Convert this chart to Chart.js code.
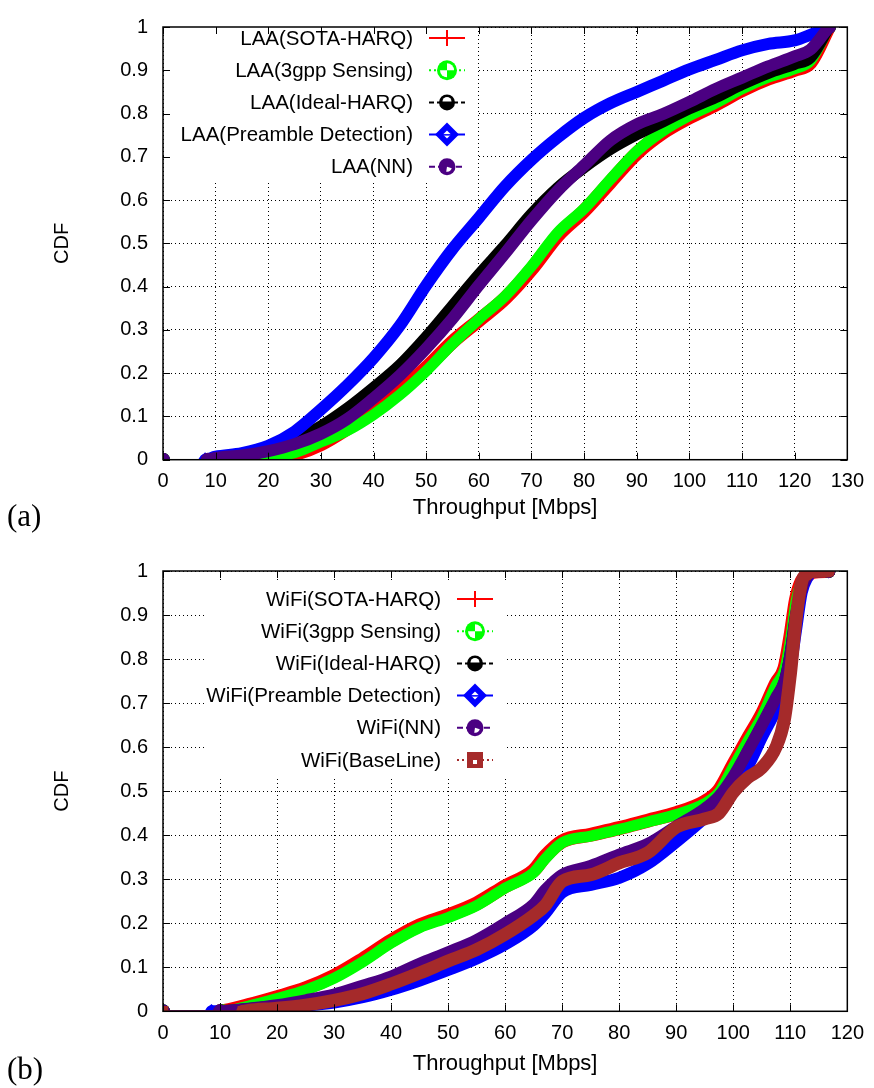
<!DOCTYPE html>
<html lang="en">
<head>
<meta charset="UTF-8">
<title>Throughput CDF - LAA / WiFi</title>
<script src="https://cdn.jsdelivr.net/npm/chart.js"></script>
<style>
  html, body { margin: 0; padding: 0; background: #fff; }
  canvas { position: absolute; left: 0; }
  #chartA { top: 0; }
  #chartB { top: 544px; }
</style>
</head>
<body>
<canvas id="chartA" width="874" height="544"></canvas>
<canvas id="chartB" width="874" height="544"></canvas>

<script>
// ---- (a) LAA throughput CDF ----
const xLaa = [10, 15, 20, 25, 30, 35, 40, 45, 50, 55, 60, 65, 70, 75, 80, 85, 90, 95, 100, 105, 110, 115, 120, 123, 126.5];
const laaSota     = [0, 0, 0.004, 0.013, 0.036, 0.072, 0.114, 0.16, 0.212, 0.272, 0.322, 0.373, 0.44, 0.518, 0.575, 0.642, 0.708, 0.756, 0.791, 0.821, 0.854, 0.881, 0.901, 0.918, 1];
const laaSensing  = [0, 0.002, 0.007, 0.016, 0.041, 0.067, 0.104, 0.15, 0.205, 0.268, 0.325, 0.378, 0.447, 0.525, 0.58, 0.648, 0.713, 0.76, 0.795, 0.824, 0.857, 0.884, 0.904, 0.922, 1];
const laaIdeal    = [0.003, 0.01, 0.022, 0.046, 0.077, 0.118, 0.166, 0.218, 0.283, 0.355, 0.427, 0.495, 0.567, 0.628, 0.676, 0.718, 0.752, 0.782, 0.812, 0.838, 0.868, 0.894, 0.915, 0.93, 1];
const laaPreamble = [0.007, 0.015, 0.032, 0.065, 0.116, 0.172, 0.235, 0.31, 0.403, 0.487, 0.559, 0.632, 0.693, 0.745, 0.79, 0.824, 0.85, 0.876, 0.902, 0.924, 0.946, 0.961, 0.969, 0.982, 1];
const laaNN       = [0.004, 0.01, 0.02, 0.036, 0.06, 0.094, 0.142, 0.195, 0.257, 0.326, 0.403, 0.477, 0.553, 0.622, 0.68, 0.738, 0.775, 0.799, 0.827, 0.857, 0.883, 0.909, 0.932, 0.948, 1];
const laaInicio   = [10, 10.5, 9, 8, 8.5]; // throughput where each curve leaves 0
const nomesLaa = ['LAA(SOTA-HARQ)', 'LAA(3gpp Sensing)', 'LAA(Ideal-HARQ)', 'LAA(Preamble Detection)', 'LAA(NN)'];

// ---- (b) WiFi throughput CDF ----
const xWifi = [10, 15, 20, 25, 30, 35, 40, 45, 50, 55, 60, 65, 67, 70, 75, 80, 85, 90, 95, 97.5, 100, 102.5, 105, 107.5, 109, 110, 111, 112, 113, 114, 116.7];
const wifiSota     = [0, 0.014, 0.032, 0.052, 0.08, 0.118, 0.16, 0.195, 0.218, 0.245, 0.284, 0.32, 0.352, 0.386, 0.401, 0.416, 0.433, 0.45, 0.476, 0.502, 0.56, 0.618, 0.674, 0.745, 0.78, 0.85, 0.935, 0.977, 0.99, 0.998, 1];
const wifiSensing  = [0, 0.012, 0.029, 0.048, 0.075, 0.112, 0.155, 0.19, 0.213, 0.24, 0.28, 0.315, 0.346, 0.383, 0.398, 0.413, 0.43, 0.447, 0.472, 0.497, 0.555, 0.612, 0.668, 0.74, 0.775, 0.84, 0.93, 0.975, 0.99, 0.998, 1];
const wifiIdeal    = [0, 0.005, 0.012, 0.022, 0.034, 0.053, 0.072, 0.098, 0.123, 0.152, 0.19, 0.236, 0.268, 0.305, 0.326, 0.352, 0.375, 0.418, 0.458, 0.486, 0.53, 0.588, 0.648, 0.71, 0.748, 0.808, 0.898, 0.958, 0.99, 0.998, 1];
const wifiPreamble = [0, 0.004, 0.009, 0.013, 0.02, 0.032, 0.049, 0.07, 0.094, 0.12, 0.152, 0.195, 0.222, 0.27, 0.287, 0.303, 0.335, 0.385, 0.44, 0.473, 0.508, 0.555, 0.622, 0.685, 0.73, 0.78, 0.865, 0.951, 0.985, 0.999, 1];
const wifiNN       = [0, 0.006, 0.014, 0.025, 0.038, 0.058, 0.079, 0.108, 0.134, 0.162, 0.2, 0.243, 0.275, 0.31, 0.33, 0.356, 0.38, 0.42, 0.46, 0.488, 0.533, 0.59, 0.65, 0.712, 0.75, 0.81, 0.9, 0.96, 0.99, 0.998, 1];
const wifiBaseline = [0, 0.002, 0.007, 0.014, 0.025, 0.04, 0.062, 0.087, 0.114, 0.14, 0.175, 0.218, 0.24, 0.295, 0.31, 0.337, 0.36, 0.418, 0.437, 0.45, 0.497, 0.53, 0.553, 0.6, 0.665, 0.764, 0.89, 0.975, 0.993, 0.999, 1];
const wifiInicio   = [10, 10.5, 10, 8.5, 10, 14];
const nomesWifi = ['WiFi(SOTA-HARQ)', 'WiFi(3gpp Sensing)', 'WiFi(Ideal-HARQ)', 'WiFi(Preamble Detection)', 'WiFi(NN)', 'WiFi(BaseLine)'];

const ticksY = [0, 0.1, 0.2, 0.3, 0.4, 0.5, 0.6, 0.7, 0.8, 0.9, 1];

// estilo de cada serie (mesma ordem dos nomes)
const cores    = ['#ff0000', '#00ff00', '#000000', '#0000ff', '#4b0082', '#a52a2a'];
const larguras = [14, 11, 12, 12, 12, 13];
const marcas   = ['mais', 'padrao', 'anel', 'losango', 'bola', 'quadrado'];
const tracos   = [[], [2, 3], [5, 3], [], [6, 3], [2, 3]];
const estiloPonto = ['cross', 'circle', 'circle', 'rectRot', 'circle', 'rect'];

Chart.defaults.font.family = '"Liberation Sans", Arial, sans-serif';
Chart.defaults.color = '#000';

function montaSerie(xs, ys, inicio) {
    const pts = [{ x: 0, y: 0 }, { x: inicio, y: 0 }];
    xs.forEach((x, i) => {
        if (x > inicio) pts.push({ x: x, y: ys[i] });
    });
    return pts;
}

function montaDatasets(nomes, series, xs, inicios) {
    const n = nomes.length;
    return nomes.map((nome, i) => {
        const dados = montaSerie(xs, series[i], inicios[i]);
        const ultimo = dados.length - 1;
        return {
            label: nome,
            data: dados,
            borderColor: cores[i],
            backgroundColor: cores[i],
            borderWidth: larguras[i],
            borderJoinStyle: 'round',
            borderCapStyle: 'round',
            cubicInterpolationMode: 'monotone',
            order: n - i, // ultimo dataset fica por cima
            pointStyle: estiloPonto[i],
            pointRadius: ctx => (ctx.dataIndex <= 1 || ctx.dataIndex === ultimo) ? 6 : 0,
            pointBorderWidth: 2,
            segment: {
                borderWidth: ctx => ctx.p0DataIndex === 0 ? 1.5 : larguras[i]
            }
        };
    });
}

function desenhaMarcador(ctx, tipo, cor, x, y) {
    ctx.save();
    ctx.fillStyle = cor;
    ctx.strokeStyle = cor;
    if (tipo === 'mais') {
        ctx.lineWidth = 2;
        ctx.beginPath();
        ctx.moveTo(x, y - 8); ctx.lineTo(x, y + 8);
        ctx.stroke();
    } else if (tipo === 'padrao') {
        ctx.beginPath(); ctx.arc(x, y, 10, 0, Math.PI * 2); ctx.fill();
        ctx.fillStyle = '#fff';
        ctx.beginPath(); ctx.moveTo(x, y); ctx.arc(x, y, 7, -Math.PI / 2, 0); ctx.closePath(); ctx.fill();
        ctx.beginPath(); ctx.moveTo(x, y); ctx.arc(x, y, 7, Math.PI / 2, Math.PI); ctx.closePath(); ctx.fill();
    } else if (tipo === 'anel') {
        ctx.beginPath(); ctx.arc(x, y, 8, 0, Math.PI * 2); ctx.fill();
        ctx.fillStyle = '#fff';
        ctx.beginPath(); ctx.arc(x, y - 1, 4.5, Math.PI, 0); ctx.closePath(); ctx.fill();
    } else if (tipo === 'losango') {
        ctx.beginPath();
        ctx.moveTo(x, y - 12); ctx.lineTo(x + 12, y); ctx.lineTo(x, y + 12); ctx.lineTo(x - 12, y);
        ctx.closePath(); ctx.fill();
        ctx.fillStyle = '#fff';
        ctx.beginPath(); ctx.moveTo(x, y - 4); ctx.lineTo(x + 4, y); ctx.lineTo(x, y + 4); ctx.lineTo(x - 4, y); ctx.closePath(); ctx.fill();
        ctx.fillStyle = cor;
        ctx.fillRect(x - 4, y - 0.5, 8, 1.5);
    } else if (tipo === 'bola') {
        ctx.beginPath(); ctx.arc(x, y, 8.5, 0, Math.PI * 2); ctx.fill();
        ctx.fillStyle = '#fff';
        ctx.beginPath(); ctx.moveTo(x, y); ctx.arc(x, y, 5, Math.PI * 0.1, Math.PI * 0.55); ctx.closePath(); ctx.fill();
    } else if (tipo === 'quadrado') {
        ctx.fillRect(x - 8, y - 8, 16, 16);
        ctx.fillStyle = '#fff';
        ctx.fillRect(x - 2, y, 4, 4);
    }
    ctx.restore();
}

function molduraPlugin(cfg) {
    return {
        id: 'moldura',
        beforeDatasetsDraw(chart) {
            // caixa branca da legenda esconde a grade
            const c = cfg.caixa;
            const ctx = chart.ctx;
            ctx.save();
            ctx.fillStyle = '#fff';
            ctx.fillRect(c[0], c[1], c[2] - c[0], c[3] - c[1]);
            ctx.restore();
        },
        afterDraw(chart) {
            const ctx = chart.ctx;
            const a = chart.chartArea;
            const sx = chart.scales.x, sy = chart.scales.y;
            ctx.save();

            // marcas de escala para dentro, nos quatro lados
            ctx.strokeStyle = '#000';
            ctx.lineWidth = 1;
            ctx.beginPath();
            sx.ticks.forEach(t => {
                const px = Math.round(sx.getPixelForValue(t.value)) + 0.5;
                ctx.moveTo(px, a.bottom); ctx.lineTo(px, a.bottom - 7);
                ctx.moveTo(px, a.top); ctx.lineTo(px, a.top + 7);
            });
            sy.ticks.forEach(t => {
                const py = Math.round(sy.getPixelForValue(t.value)) + 0.5;
                ctx.moveTo(a.left, py); ctx.lineTo(a.left + 7, py);
                ctx.moveTo(a.right, py); ctx.lineTo(a.right - 7, py);
            });
            ctx.stroke();
            ctx.lineWidth = 1.5;
            ctx.strokeRect(a.left, a.top, a.right - a.left, a.bottom - a.top);

            // legenda
            const L = cfg.legenda;
            ctx.font = '20.5px "Liberation Sans", Arial, sans-serif';
            ctx.textAlign = 'right';
            ctx.textBaseline = 'middle';
            cfg.nomes.forEach((nome, i) => {
                const y = L.y0 + i * L.passo;
                ctx.fillStyle = '#000';
                ctx.fillText(nome, L.xTexto, y + 1);
                ctx.strokeStyle = cores[i];
                ctx.lineWidth = 2;
                ctx.setLineDash(tracos[i]);
                ctx.beginPath();
                ctx.moveTo(L.xLinha0, y); ctx.lineTo(L.xLinha1, y);
                ctx.stroke();
                ctx.setLineDash([]);
                desenhaMarcador(ctx, marcas[i], cores[i], (L.xLinha0 + L.xLinha1) / 2, y);
            });

            // rotulo (a)/(b)
            ctx.font = '31px "Liberation Serif", "DejaVu Serif", serif';
            ctx.fillStyle = '#000';
            ctx.textAlign = 'left';
            ctx.textBaseline = 'middle';
            ctx.fillText(cfg.rotulo, 7, cfg.rotuloY);
            ctx.restore();
        }
    };
}

function opcoes(xMax, alturaX, padTopo, padTitulo) {
    return {
        responsive: false,
        animation: false,
        events: [],
        layout: { padding: { left: 0, right: 25, top: padTopo, bottom: 0 } },
        plugins: { legend: { display: false }, tooltip: { enabled: false } },
        scales: {
            x: {
                type: 'linear',
                min: 0,
                max: xMax,
                afterFit: scale => { scale.height = alturaX; },
                ticks: { stepSize: 10, padding: 10, maxRotation: 0, autoSkip: false, font: { size: 20 } },
                grid: { color: '#000', lineWidth: 1, drawTicks: false },
                border: { display: false, dash: [1, 3] },
                title: { display: true, text: 'Throughput [Mbps]', font: { size: 22, lineHeight: 1.2 }, padding: { top: 0, bottom: padTitulo } }
            },
            y: {
                type: 'linear',
                min: 0,
                max: 1,
                afterFit: scale => { scale.width = 163; },
                afterBuildTicks: scale => { scale.ticks = ticksY.map(v => ({ value: v })); },
                ticks: { padding: 15, font: { size: 20 }, callback: v => String(Math.round(v * 10) / 10) },
                grid: { color: '#000', lineWidth: 1, drawTicks: false },
                border: { display: false, dash: [1, 3] },
                title: { display: true, text: 'CDF', font: { size: 20, lineHeight: 1.2 }, padding: { top: 50, bottom: 0 } }
            }
        }
    };
}

new Chart(document.getElementById('chartA'), {
    type: 'line',
    data: { datasets: montaDatasets(nomesLaa, [laaSota, laaSensing, laaIdeal, laaPreamble, laaNN], xLaa, laaInicio) },
    options: opcoes(130, 84.3, 12.7, 23),
    plugins: [molduraPlugin({
        nomes: nomesLaa,
        caixa: [165, 14, 478, 182],
        legenda: { y0: 38, passo: 32.2, xTexto: 413, xLinha0: 429, xLinha1: 465 },
        rotulo: '(a)',
        rotuloY: 518
    })]
});

new Chart(document.getElementById('chartB'), {
    type: 'line',
    data: { datasets: montaDatasets(nomesWifi, [wifiSota, wifiSensing, wifiIdeal, wifiPreamble, wifiNN, wifiBaseline], xWifi, wifiInicio) },
    options: opcoes(120, 76.7, 20.7, 11),
    plugins: [molduraPlugin({
        nomes: nomesWifi,
        caixa: [204, 39, 507, 233],
        legenda: { y0: 55, passo: 32.2, xTexto: 441, xLinha0: 457, xLinha1: 493 },
        rotulo: '(b)',
        rotuloY: 527
    })]
});
</script>
</body>
</html>
